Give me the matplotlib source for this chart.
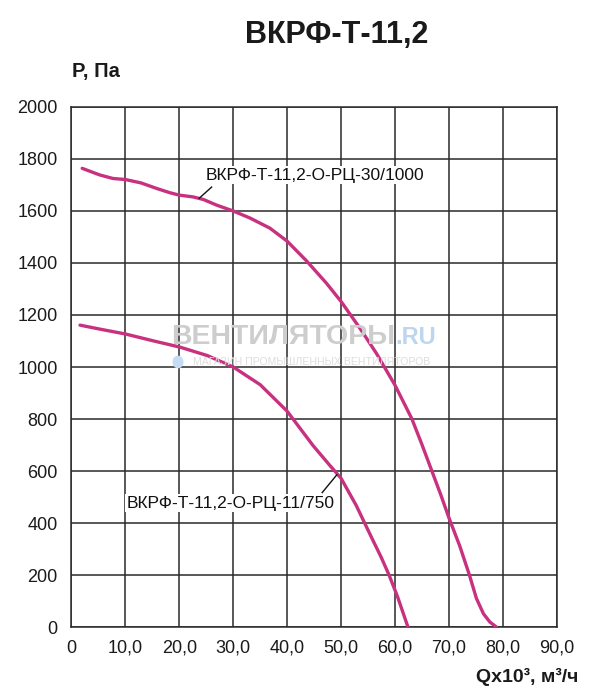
import matplotlib
matplotlib.use("Agg")
import matplotlib.pyplot as plt
from matplotlib.patches import Circle

plt.rcParams['font.family'] = ['Liberation Sans', 'DejaVu Sans']

title = "ВКРФ-Т-11,2"
y_label = "P, Па"
x_label = "Qx10³, м³/ч"

upper_name = "ВКРФ-Т-11,2-О-РЦ-30/1000"
upper_q = [2.0, 5.2, 7.7, 10, 12.9, 15.9, 18.3, 20, 22.6, 24.5, 27, 30, 33.1, 36.8, 40, 43.6,
           47.3, 50, 53.5, 56.6, 60, 63.1, 64.9, 66.8, 68.5, 70, 72, 73.8, 75.1, 76.4, 77.6, 78.8]
upper_p = [1764, 1739, 1725, 1721, 1708, 1686, 1670, 1661, 1654, 1644, 1622, 1600, 1573, 1534, 1484, 1408,
           1322, 1252, 1149, 1051, 930, 802, 707, 602, 508, 420, 312, 200, 110, 51, 19, 0]

lower_name = "ВКРФ-Т-11,2-О-РЦ-11/750"
lower_q = [1.6, 5.2, 10, 15.3, 20.2, 25.2, 30, 35, 40, 44.8, 47.9, 50, 52.8, 55.8, 57.4, 58.9, 60.5, 62.4]
lower_p = [1161, 1146, 1127, 1100, 1076, 1044, 1000, 932, 830, 698, 622, 572, 468, 338, 270, 200, 115, 0]

x_ticks = [0, 10, 20, 30, 40, 50, 60, 70, 80, 90]
x_tick_labels = ["0", "10,0", "20,0", "30,0", "40,0", "50,0", "60,0", "70,0", "80,0", "90,0"]
y_ticks = [0, 200, 400, 600, 800, 1000, 1200, 1400, 1600, 1800, 2000]

curve_color = "#c8317f"
grid_color = "#2a2a2a"

fig = plt.figure(figsize=(6.0, 6.96), dpi=100)
ax = fig.add_axes([0.119, 0.0991, 0.928 - 0.119, 0.8463 - 0.0991])
ax.set_xlim(0, 90)
ax.set_ylim(0, 2000)
ax.set_xticks(x_ticks)
ax.set_xticklabels(x_tick_labels)
ax.set_yticks(y_ticks)
ax.set_yticklabels([str(v) for v in y_ticks])
ax.tick_params(length=0, labelsize=13, colors="#1a1a1a")
ax.tick_params(axis='y', pad=10)
ax.tick_params(axis='x', pad=9)
ax.grid(True, color=grid_color, linewidth=1.1)
for s in ax.spines.values():
    s.set_color(grid_color)
    s.set_linewidth(1.1)
ax.set_axisbelow(True)

# watermark
fig.text(395 / 600, 1 - 337 / 696, "ВЕНТИЛЯТОРЫ", ha='right', va='center',
         fontsize=20.5, fontweight='bold', color="#cdcdcd", zorder=1.5)
fig.text(395 / 600, 1 - 337 / 696, ".RU", ha='left', va='center',
         fontsize=17, fontweight='bold', color="#bcd6f0", zorder=1.5)
fig.text(193 / 600, 1 - 362 / 696, "МАГАЗИН ПРОМЫШЛЕННЫХ ВЕНТИЛЯТОРОВ", ha='left', va='center',
         fontsize=7.6, color="#dddddd", zorder=1.5)
fig.patches.append(Circle((178 / 600, 1 - 362 / 696), 5.5 / 600, transform=fig.transFigure,
                          facecolor="#c6dcf2", edgecolor="none", zorder=1.5))

ax.plot(upper_q, upper_p, color=curve_color, linewidth=2.4, solid_capstyle='round',
        solid_joinstyle='round', zorder=3)
ax.plot(lower_q, lower_p, color=curve_color, linewidth=2.4, solid_capstyle='round',
        solid_joinstyle='round', zorder=3)

# labels with leader lines
ax.plot([23.7, 26.0], [1649, 1692], color="#111111", linewidth=1.0, zorder=4)
ax.text(24.8, 1738, upper_name, ha='left', va='center', fontsize=12.5, color="#111111",
        bbox=dict(facecolor='white', edgecolor='none', pad=1.0), zorder=4)
ax.plot([46.5, 49.2], [517, 585], color="#111111", linewidth=1.0, zorder=4)
ax.text(10.2, 476, lower_name, ha='left', va='center', fontsize=12.5, color="#111111",
        bbox=dict(facecolor='white', edgecolor='none', pad=1.0), zorder=4)

fig.text(337 / 600, 1 - 35 / 696, title, ha='center', va='center', fontsize=22,
         fontweight='bold', color="#1a1a1a")
fig.text(72 / 600, 1 - 72 / 696, y_label, ha='left', va='center', fontsize=14.5,
         fontweight='bold', color="#1a1a1a")
fig.text(578 / 600, 1 - 677 / 696, x_label, ha='right', va='center', fontsize=14,
         fontweight='bold', color="#1a1a1a")

fig.savefig("out.png", dpi=100)
